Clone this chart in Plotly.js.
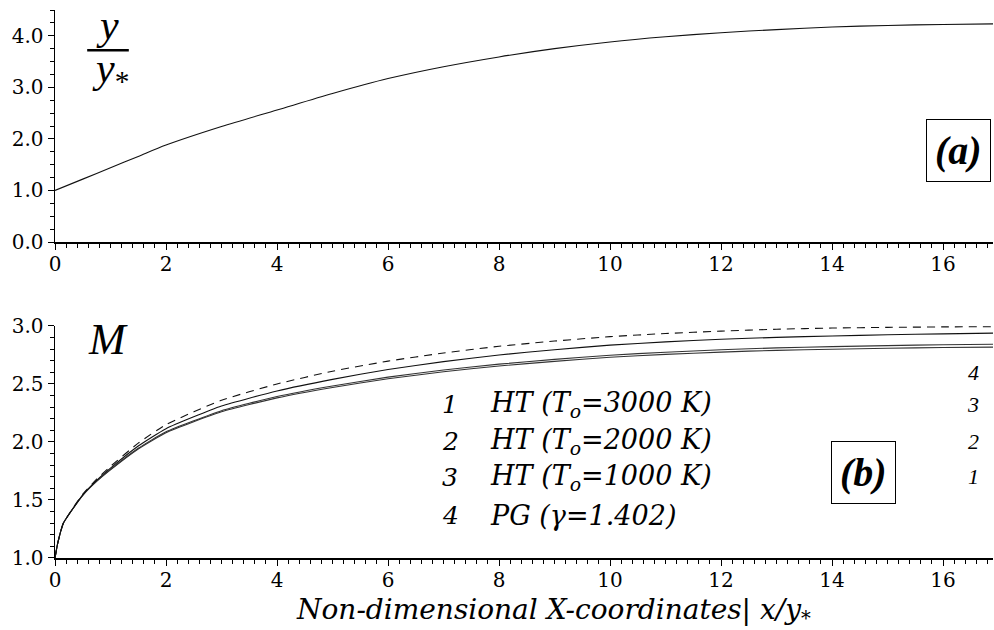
<!DOCTYPE html>
<html>
<head>
<meta charset="utf-8">
<script src="https://cdn.plot.ly/plotly-3.0.1.min.js"></script>
<style>
html,body{margin:0;padding:0;background:#fff;}
#chart{width:994px;height:630px;}
</style>
</head>
<body>
<div id="chart"></div>
<script>
// Panel (a): y/y* vs x/y*
const xA = [0,0.5,1,1.5,2,3,4,5,6,7,8,9,10,11,12,13,14,15,16,16.9];
const yA = [1.0,1.22,1.44,1.66,1.88,2.24,2.56,2.88,3.17,3.40,3.59,3.75,3.88,3.98,4.06,4.12,4.17,4.20,4.22,4.23];

// Panel (b): Mach number M vs x/y*
const xB = [0,0.05,0.15,0.3,0.5,0.75,1,1.5,2,3,4,5,6,7,8,9,10,11,12,13,14,15,16,16.9];
const m1 = [1.00,1.13,1.30,1.41,1.54,1.66,1.76,1.94,2.08,2.26,2.38,2.47,2.545,2.605,2.655,2.695,2.73,2.755,2.775,2.79,2.80,2.808,2.814,2.818];
const m2 = [1.00,1.13,1.30,1.41,1.54,1.662,1.764,1.946,2.088,2.27,2.392,2.483,2.559,2.62,2.671,2.712,2.748,2.774,2.795,2.811,2.822,2.831,2.838,2.843];
const m3 = [1.00,1.13,1.30,1.41,1.545,1.67,1.775,1.965,2.115,2.31,2.44,2.54,2.625,2.693,2.75,2.795,2.835,2.863,2.885,2.902,2.914,2.924,2.932,2.938];
const m4 = [1.00,1.13,1.30,1.415,1.55,1.68,1.79,1.99,2.15,2.36,2.50,2.61,2.697,2.767,2.825,2.87,2.908,2.935,2.956,2.972,2.982,2.988,2.992,2.994];

const legendNums = ["1","2","3","4"];
const legendText = ["HT (T<sub>o</sub>=3000 K)","HT (T<sub>o</sub>=2000 K)","HT (T<sub>o</sub>=1000 K)","PG (γ=1.402)"];
const legendY = [2.32, 2.0, 1.69, 1.37];
const curveLabels = ["4","3","2","1"];
const curveLabelY = [2.595, 2.32, 2.0, 1.70];

const serif = "DejaVu Serif";
const times = "Liberation Serif";

const traces = [
  {x:xA, y:yA, xaxis:'x', yaxis:'y', mode:'lines', line:{color:'#111', width:1.1, shape:'spline', smoothing:0.8}},
  {x:xB, y:m1, xaxis:'x2', yaxis:'y2', mode:'lines', line:{color:'#333', width:1.1, shape:'spline', smoothing:0.5}},
  {x:xB, y:m2, xaxis:'x2', yaxis:'y2', mode:'lines', line:{color:'#333', width:1.1, shape:'spline', smoothing:0.5}},
  {x:xB, y:m3, xaxis:'x2', yaxis:'y2', mode:'lines', line:{color:'#111', width:1.1, shape:'spline', smoothing:0.5}},
  {x:xB, y:m4, xaxis:'x2', yaxis:'y2', mode:'lines', line:{color:'#111', width:1.1, dash:'8px,6px', shape:'spline', smoothing:0.5}}
];

function xax(anchor){
  return {anchor:anchor, range:[0,16.9], dtick:2, tick0:0, showgrid:false, zeroline:false,
    showline:true, linecolor:'#000', linewidth:1.5, ticks:'outside', ticklen:6, tickcolor:'#000', tickwidth:1,
    ticklabelstandoff:-3,
    minor:{dtick:0.2, ticks:'outside', ticklen:4, tickcolor:'#000', tickwidth:1},
    tickfont:{family:serif, size:20, color:'#000'}, fixedrange:true};
}
function yax(anchor, domain, range, dtick, minor){
  return {anchor:anchor, domain:domain, range:range, dtick:dtick, tick0:0, tickformat:'.1f', showgrid:false, zeroline:false,
    showline:true, linecolor:'#000', linewidth:1.5, ticks:'outside', ticklen:6, tickcolor:'#000', tickwidth:1,
    minor:{dtick:minor, ticks:'outside', ticklen:4, tickcolor:'#000', tickwidth:1},
    tickfont:{family:serif, size:20, color:'#000'}, fixedrange:true};
}

const annotations = [
  {xref:'x', yref:'y', x:0.95, y:4.2, text:'<i>y</i>', showarrow:false, font:{family:times, size:42, color:'#000'}},
  {xref:'x', yref:'y', x:1.0, y:3.32, text:'<i>y</i><sub>*</sub>', showarrow:false, font:{family:times, size:42, color:'#000'}},
  {xref:'x', yref:'y', x:16.27, y:1.77, text:'<b><i>(a)</i></b>', showarrow:false, font:{family:times, size:40, color:'#000'},
   bordercolor:'#000', borderwidth:1, borderpad:8, bgcolor:'#fff'},
  {xref:'x2', yref:'y2', x:0.95, y:2.88, text:'<i>M</i>', showarrow:false, font:{family:times, size:44, color:'#000'}},
  {xref:'x2', yref:'y2', x:14.56, y:1.733, text:'<b><i>(b)</i></b>', showarrow:false, font:{family:times, size:40, color:'#000'},
   bordercolor:'#000', borderwidth:1, borderpad:8, bgcolor:'#fff'},
  {xref:'paper', yref:'paper', x:0.531, y:-0.0985, yanchor:'middle', text:'<i>Non-dimensional X-coordinates| x/y<sub>*</sub></i>', showarrow:false,
   font:{family:serif, size:28, color:'#000'}}
];
legendNums.forEach((t,i)=>annotations.push({xref:'x2', yref:'y2', x:7.12, y:legendY[i], text:'<i>'+t+'</i>',
  showarrow:false, font:{family:serif, size:25, color:'#000'}}));
legendText.forEach((t,i)=>annotations.push({xref:'x2', yref:'y2', x:7.80, y:legendY[i], xanchor:'left', text:'<i>'+t+'</i>',
  showarrow:false, font:{family:serif, size:27, color:'#000'}}));
curveLabels.forEach((t,i)=>annotations.push({xref:'x2', yref:'y2', x:16.54, y:curveLabelY[i], text:'<i>'+t+'</i>',
  showarrow:false, font:{family:times, size:22, color:'#000'}}));

const layout = {
  width:994, height:630, margin:{l:55, r:1, t:10, b:72},
  paper_bgcolor:'#fff', plot_bgcolor:'#fff', showlegend:false,
  font:{family:serif},
  xaxis: xax('y'),
  yaxis: yax('x', [0.5766,1], [0,4.5], 1, 0.25),
  xaxis2: xax('y2'),
  yaxis2: yax('x2', [0,0.4234], [1,3], 0.5, 0.1),
  annotations: annotations,
  shapes:[{type:'line', xref:'x', yref:'y', x0:0.58, x1:1.33, y0:3.72, y1:3.72, line:{color:'#000', width:2.5}}]
};

Plotly.newPlot('chart', traces, layout, {staticPlot:true, displayModeBar:false});
</script>
</body>
</html>
